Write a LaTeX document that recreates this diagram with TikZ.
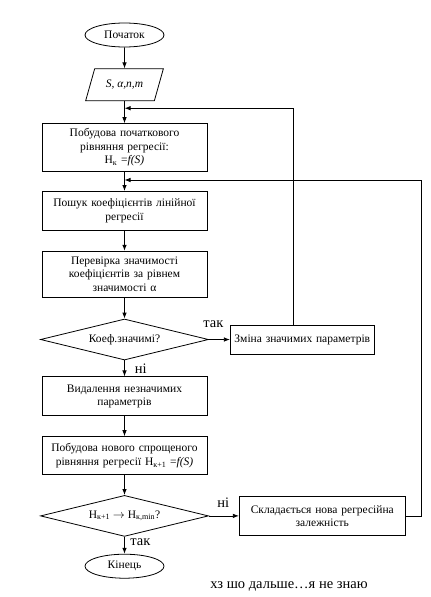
\documentclass[tikz,border=0pt]{standalone}
\usepackage{fontspec}
\setmainfont{Liberation Serif}
\usetikzlibrary{positioning,shapes.geometric,arrows.meta,calc}

\begin{document}
\begin{tikzpicture}[x=1pt,y=-1pt,node distance=20pt,line width=0.8pt,
		font=\fontsize{11.5}{13.5}\selectfont,
		term/.style={ellipse,draw,minimum width=79pt,minimum height=24pt,inner sep=0pt},
		io/.style={trapezium,draw,trapezium left angle=59,trapezium right angle=121,
			trapezium stretches=true,minimum width=78pt,minimum height=32pt,inner sep=0pt},
		block/.style={rectangle,draw,text width=157pt,inner xsep=4pt,inner ysep=0pt,align=center},
		decision/.style={diamond,draw,aspect=4.1,minimum width=168pt,minimum height=41pt,inner sep=0pt},
		line/.style={draw,-{Latex[length=6pt,width=4.5pt]}},
		answer/.style={font=\fontsize{14.5}{16}\selectfont,inner sep=0pt}]
		\useasboundingbox (0,0) rectangle (431,597);

		\node[term] (start) at (124.5,35) {Початок};
		\node[io] (inp) [below=21pt of start] {\textit{S, α,n,m}};
		\node[block,minimum height=48pt] (build) [below=22pt of inp]
			{Побудова початкового\\рівняння регресії:\\Н\textsubscript{к} =\textit{f(S)}};
		\node[block,minimum height=39pt] (search) [below=19pt of build]
			{Пошук коефіцієнтів лінійної\\регресії};
		\node[block,minimum height=46pt] (check) [below=of search]
			{Перевірка значимості\\коефіцієнтів за рівнем\\значимості α};
		\node[decision] (sig) [below=21pt of check] {Коеф.значимі?};
		\node[block,minimum height=39pt] (remove) [below=16pt of sig]
			{Видалення незначимих\\параметрів};
		\node[block,minimum height=38pt] (newbuild) [below=of remove]
			{Побудова нового спрощеного\\рівняння регресії Н\textsubscript{к+1} =\textit{f(S)}};
		\node[decision] (conv) [below=of newbuild]
			{Н\textsubscript{к+1} $\rightarrow$ Н\textsubscript{к,min}?};
		\node[term] (stop) [below=17pt of conv] {Кінець};

		\node[block,text width=136pt,minimum height=29pt] (change) [right=21pt of sig]
			{Зміна значимих параметрів};
		\node[block,text width=158pt,minimum height=39pt] (compose) [right=30pt of conv]
			{Складається нова регресійна\\залежність};

		% joins of the loops
		\coordinate (j1) at ($(inp.south)+(0,7)$);
		\coordinate (j2) at ($(build.south)+(0,8)$);

		% connection
		\draw [line] (start) -- (inp);
		\draw [line] (inp) -- (build);
		\draw [line] (build) -- (search);
		\draw [line] (search) -- (check);
		\draw [line] (check) -- (sig);
		\draw [line] (sig) -- (change);
		\draw [line] (sig) -- (remove);
		\draw [line] (remove) -- (newbuild);
		\draw [line] (newbuild) -- (conv);
		\draw [line] (conv) -- (compose);
		\draw [line] (conv) -- (stop);
		\draw [line] ($(change.north)+(-9,0)$) |- (j1);
		\draw [line] (compose.east) -- ++(16,0) |- (j2);

		% answers
		\node[answer,anchor=south west] (yes1) at ($(sig.east)+(-6,-11)$) {так};
		\node[answer,anchor=north west] (no1) at ($(sig.south)+(10,3)$) {ні};
		\node[answer,anchor=south west] (no2) at ($(conv.east)+(8,-8)$) {ні};
		\node[answer,anchor=north west] (yes2) at ($(conv.south)+(5.5,1)$) {так};

		\node[answer] (note) at (289,586.5) {хз шо дальше…я не знаю};
	\end{tikzpicture}
\end{document}
